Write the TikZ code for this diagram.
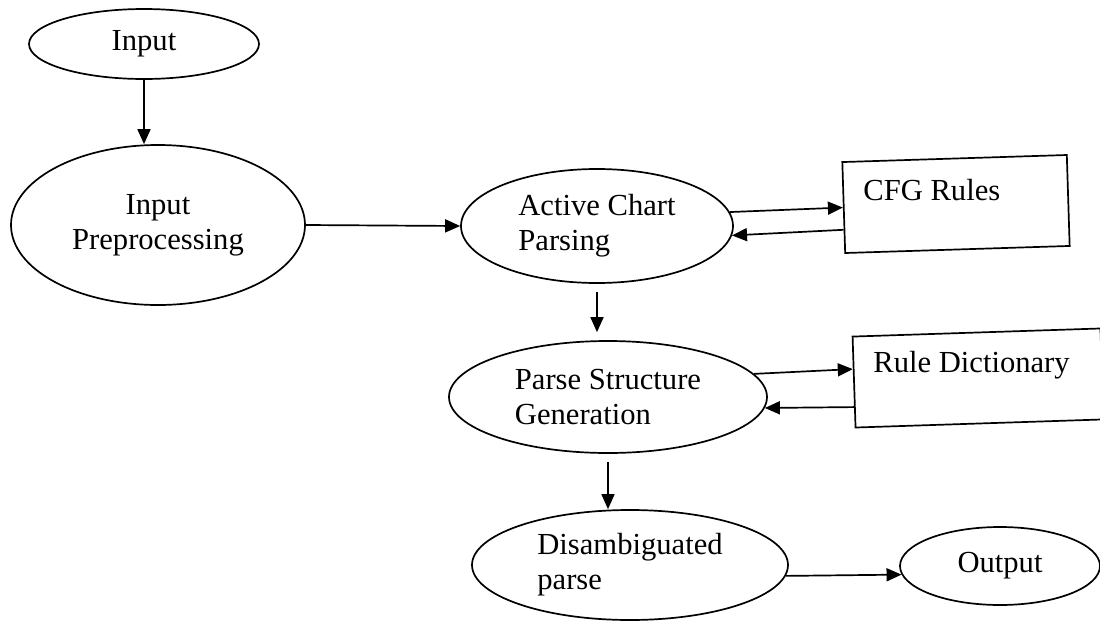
\documentclass[tikz,border=0pt]{standalone}
\usepackage{fontspec}
\setmainfont{Liberation Serif}
\usetikzlibrary{shapes.geometric,arrows.meta,calc}
\begin{document}
\begin{tikzpicture}[x=0.5pt,y=-0.5pt,
  every node/.style={font=\fontsize{15.3}{17.5}\selectfont, text=black},
  oval/.style={draw, ellipse, line width=0.85pt, inner sep=0pt},
  box/.style={draw, rectangle, line width=0.85pt, inner sep=0pt},
  arr/.style={-{Triangle[length=7.5pt,width=6.5pt]}, line width=0.85pt},
  lbl/.style={anchor=west, inner sep=0pt}]
\useasboundingbox (0,0) rectangle (1100,622);
\clip (0,0) rectangle (1100,622);
% ellipses
\node[oval, minimum width=115pt, minimum height=35pt] (inp) at (144,44) {Input};
\node[oval, minimum width=147pt, minimum height=80pt, align=center] (prep) at (158,225) {Input\\Preprocessing};
\node[oval, minimum width=136pt, minimum height=57pt, align=left] (acp) at (597,226) {Active Chart\\Parsing};
\node[oval, minimum width=159pt, minimum height=56pt, align=left] (psg) at (608,397) {Parse Structure\\Generation};
\node[oval, minimum width=158pt, minimum height=55pt, align=left] (dis) at (630,565) {Disambiguated\\parse};
\node[oval, minimum width=100pt, minimum height=39pt] (out) at (1000,566) {Output};
% boxes
\node[box, minimum width=112.3pt, minimum height=45.5pt, rotate=1.8] (cfg) at (956,204) {};
\node[lbl] (cfgt) at (863,190) {CFG Rules};
\node[box, minimum width=124pt, minimum height=45.5pt, rotate=1.87] (rd) at (978,378) {};
\node[lbl] (rdt) at (873,365) {Rule Dictionary};
% connectors
\draw[arr] (inp.south) -- (inp.south |- prep.north);
\draw[arr] (prep.east) -- (acp.west);
\draw[arr] (acp.6) -- (cfg.west);
\draw[arr] ($(cfg.north west)!0.74!(cfg.south west)$) -- (acp.-4);
\draw[arr, shorten <=4pt, shorten >=4pt] (acp.south) -- (acp.south |- psg.north);
\draw[arr] (psg.9) -- ($(rd.north west)!0.36!(rd.south west)$);
\draw[arr] ($(rd.north west)!0.77!(rd.south west)$) -- (psg.-4);
\draw[arr, shorten <=4pt] (psg.south) -- (psg.south |- dis.north);
\draw[arr] (dis.-4) -- (out.185);
\end{tikzpicture}
\end{document}
